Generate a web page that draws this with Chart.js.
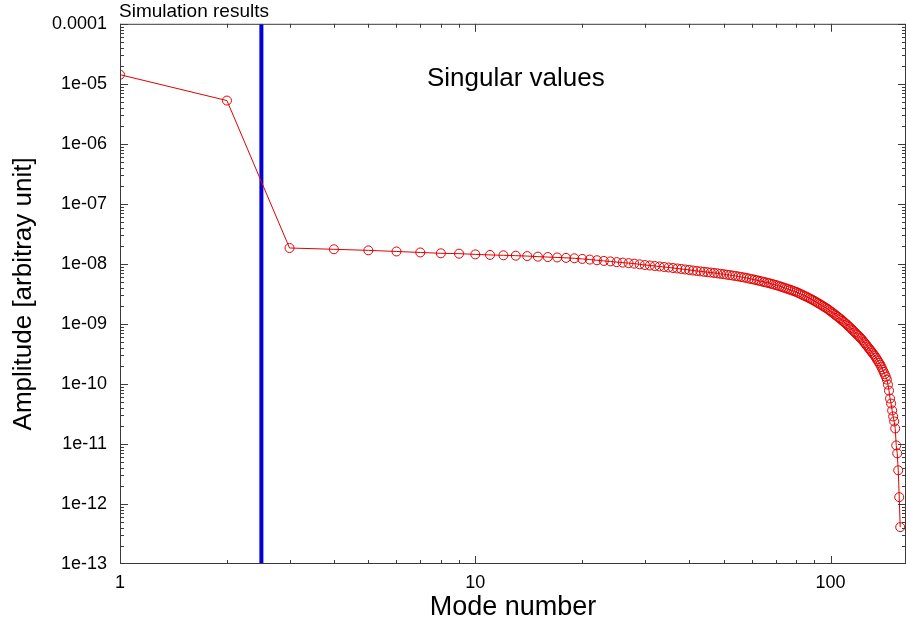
<!DOCTYPE html>
<html>
<head>
<meta charset="utf-8">
<title>Singular values</title>
<script src="https://cdn.jsdelivr.net/npm/chart.js@4/dist/chart.umd.min.js"></script>
<style>
    html, body { margin: 0; padding: 0; background: #fff; overflow: hidden; }
    #chart { display: block; }
</style>
</head>
<body>
<canvas id="chart" width="914" height="625"></canvas>
<script>
// singular value of each mode, mode 1 first
const amplitude = [
    1.42e-5, 5.26e-6, 1.84e-8, 1.75e-8, 1.68e-8, 1.61e-8, 1.55e-8, 1.50e-8, 1.48e-8, 1.44e-8,
    1.41e-8, 1.39e-8, 1.37e-8, 1.35e-8, 1.32e-8, 1.30e-8, 1.28e-8, 1.26e-8, 1.24e-8, 1.21e-8,
    1.18e-8, 1.15e-8, 1.12e-8, 1.10e-8, 1.07e-8, 1.05e-8, 1.03e-8, 1.01e-8, 9.84e-9, 9.58e-9,
    9.40e-9, 9.22e-9, 9.05e-9, 8.88e-9, 8.71e-9, 8.54e-9, 8.38e-9, 8.22e-9, 8.07e-9, 7.91e-9,
    7.76e-9, 7.62e-9, 7.50e-9, 7.39e-9, 7.27e-9, 7.17e-9, 7.06e-9, 6.95e-9, 6.84e-9, 6.74e-9,
    6.61e-9, 6.51e-9, 6.39e-9, 6.29e-9, 6.17e-9, 6.05e-9, 5.94e-9, 5.83e-9, 5.69e-9, 5.57e-9,
    5.46e-9, 5.34e-9, 5.22e-9, 5.10e-9, 4.98e-9, 4.89e-9, 4.78e-9, 4.67e-9, 4.56e-9, 4.46e-9,
    4.34e-9, 4.23e-9, 4.12e-9, 4.01e-9, 3.90e-9, 3.80e-9, 3.70e-9, 3.60e-9, 3.50e-9, 3.41e-9,
    3.30e-9, 3.19e-9, 3.08e-9, 2.97e-9, 2.88e-9, 2.79e-9, 2.69e-9, 2.60e-9, 2.51e-9, 2.42e-9,
    2.33e-9, 2.24e-9, 2.16e-9, 2.08e-9, 2.00e-9, 1.92e-9, 1.85e-9, 1.78e-9, 1.70e-9, 1.62e-9,
    1.56e-9, 1.49e-9, 1.42e-9, 1.36e-9, 1.30e-9, 1.24e-9, 1.19e-9, 1.13e-9, 1.08e-9, 1.03e-9,
    9.81e-10, 9.34e-10, 8.88e-10, 8.45e-10, 8.04e-10, 7.62e-10, 7.25e-10, 6.90e-10, 6.57e-10, 6.25e-10,
    5.94e-10, 5.66e-10, 5.34e-10, 5.02e-10, 4.74e-10, 4.46e-10, 4.21e-10, 3.96e-10, 3.74e-10, 3.52e-10,
    3.32e-10, 3.13e-10, 2.95e-10, 2.76e-10, 2.57e-10, 2.40e-10, 2.24e-10, 2.09e-10, 1.91e-10, 1.74e-10,
    1.59e-10, 1.45e-10, 1.32e-10, 1.18e-10, 9.74e-11, 7.74e-11, 5.70e-11, 4.71e-11, 3.61e-11, 2.87e-11,
    2.37e-11, 1.81e-11, 9.46e-12, 6.97e-12, 3.64e-12, 1.30e-12, 4.11e-13
];
const modes = amplitude.map((v, i) => i + 1);

// truncation between mode 2 and mode 3
const cutoffMode = 2.5;

const xMin = 1;
const xMax = 163;
const yMin = 1e-13;
const yMax = 1e-4;

const plotTitle = 'Simulation results';
const plotLabel = 'Singular values';
const xTitle = 'Mode number';
const yTitle = 'Amplitude [arbitray unit]';

const FONT = '"Liberation Sans", Arial, Helvetica, sans-serif';

// gnuplot style %g labels, only on the decades
function decadeLabel(value) {
    const e = Math.log10(value);
    const r = Math.round(e);
    if (Math.abs(e - r) > 1e-6) return '';
    if (r >= -4) return String(Math.pow(10, r));
    return '1e-' + String(-r).padStart(2, '0');
}

function mantissa(value) {
    const e = Math.floor(Math.log10(value) + 1e-9);
    return value / Math.pow(10, e);
}

// box round the plot with inward ticks on all four sides
const frameTicks = {
    id: 'frameTicks',
    afterDatasetsDraw(chart) {
        const { ctx, chartArea: a, scales } = chart;
        ctx.save();
        ctx.strokeStyle = '#3a3a3a';
        ctx.lineWidth = 1;
        ctx.strokeRect(a.left + 0.5, a.top + 0.5, a.right - a.left - 1, a.bottom - a.top - 1);

        ctx.beginPath();
        scales.x.ticks.forEach(t => {
            const m = mantissa(t.value);
            if (Math.abs(m - Math.round(m)) > 1e-6) return;
            const len = Math.round(m) === 1 ? 8 : 4;
            const px = Math.round(scales.x.getPixelForValue(t.value)) + 0.5;
            if (px < a.left || px > a.right) return;
            ctx.moveTo(px, a.bottom);
            ctx.lineTo(px, a.bottom - len);
            ctx.moveTo(px, a.top);
            ctx.lineTo(px, a.top + len);
        });
        scales.y.ticks.forEach(t => {
            const m = mantissa(t.value);
            if (Math.abs(m - Math.round(m)) > 1e-6) return;
            const len = Math.round(m) === 1 ? 8 : 4;
            const py = Math.round(scales.y.getPixelForValue(t.value)) + 0.5;
            if (py < a.top || py > a.bottom) return;
            ctx.moveTo(a.left, py);
            ctx.lineTo(a.left + len, py);
            ctx.moveTo(a.right, py);
            ctx.lineTo(a.right - len, py);
        });
        ctx.stroke();
        ctx.restore();
    }
};

const plotText = {
    id: 'plotText',
    afterDraw(chart) {
        const { ctx, chartArea: a } = chart;
        ctx.save();
        ctx.fillStyle = '#000';
        ctx.textBaseline = 'alphabetic';
        ctx.textAlign = 'left';
        ctx.font = '19px ' + FONT;
        ctx.fillText(plotTitle, a.left - 1, 17);
        ctx.font = '26px ' + FONT;
        ctx.fillText(plotLabel, a.left + 307, a.top + 62);
        ctx.restore();
    }
};

const ctx = document.getElementById('chart').getContext('2d');

const chart = new Chart(ctx, {
    type: 'line',
    data: {
        datasets: [{
            label: plotLabel,
            data: modes.map((m, i) => ({ x: m, y: amplitude[i] })),
            borderColor: '#e00000',
            borderWidth: 1,
            pointStyle: 'circle',
            pointRadius: 4.5,
            pointBorderWidth: 1,
            pointBorderColor: '#e00000',
            pointBackgroundColor: 'rgba(0,0,0,0)',
            tension: 0,
            order: 0
        },
        {
            label: 'cutoff',
            data: [{ x: cutoffMode, y: yMin }, { x: cutoffMode, y: yMax }],
            borderColor: 'rgb(0, 0, 215)',
            borderWidth: 4,
            pointRadius: 0,
            order: 1
        }]
    },
    options: {
        responsive: false,
        animation: false,
        layout: {
            padding: { top: 22, right: 4, bottom: 0, left: 0 }
        },
        plugins: {
            legend: { display: false },
            tooltip: { enabled: false },
            title: { display: false }
        },
        scales: {
            x: {
                type: 'logarithmic',
                min: xMin,
                max: xMax,
                grid: { display: false, drawTicks: false },
                border: { display: false },
                afterFit(scale) { scale.height = 61; },
                ticks: {
                    autoSkip: false,
                    maxRotation: 0,
                    padding: 8,
                    color: '#000',
                    font: { family: FONT, size: 18 },
                    callback: value => decadeLabel(value)
                },
                title: {
                    display: true,
                    text: xTitle,
                    color: '#000',
                    font: { family: FONT, size: 27 },
                    padding: { top: 0, bottom: 1 }
                }
            },
            y: {
                type: 'logarithmic',
                min: yMin,
                max: yMax,
                grid: { display: false, drawTicks: false },
                border: { display: false },
                afterFit(scale) { scale.width = 120; },
                ticks: {
                    autoSkip: false,
                    padding: 13,
                    color: '#000',
                    font: { family: FONT, size: 18 },
                    callback: value => decadeLabel(value)
                },
                title: {
                    display: true,
                    text: yTitle,
                    color: '#000',
                    font: { family: FONT, size: 26 },
                    padding: { top: 8, bottom: 0 }
                }
            }
        }
    },
    plugins: [frameTicks, plotText]
});
</script>
</body>
</html>
